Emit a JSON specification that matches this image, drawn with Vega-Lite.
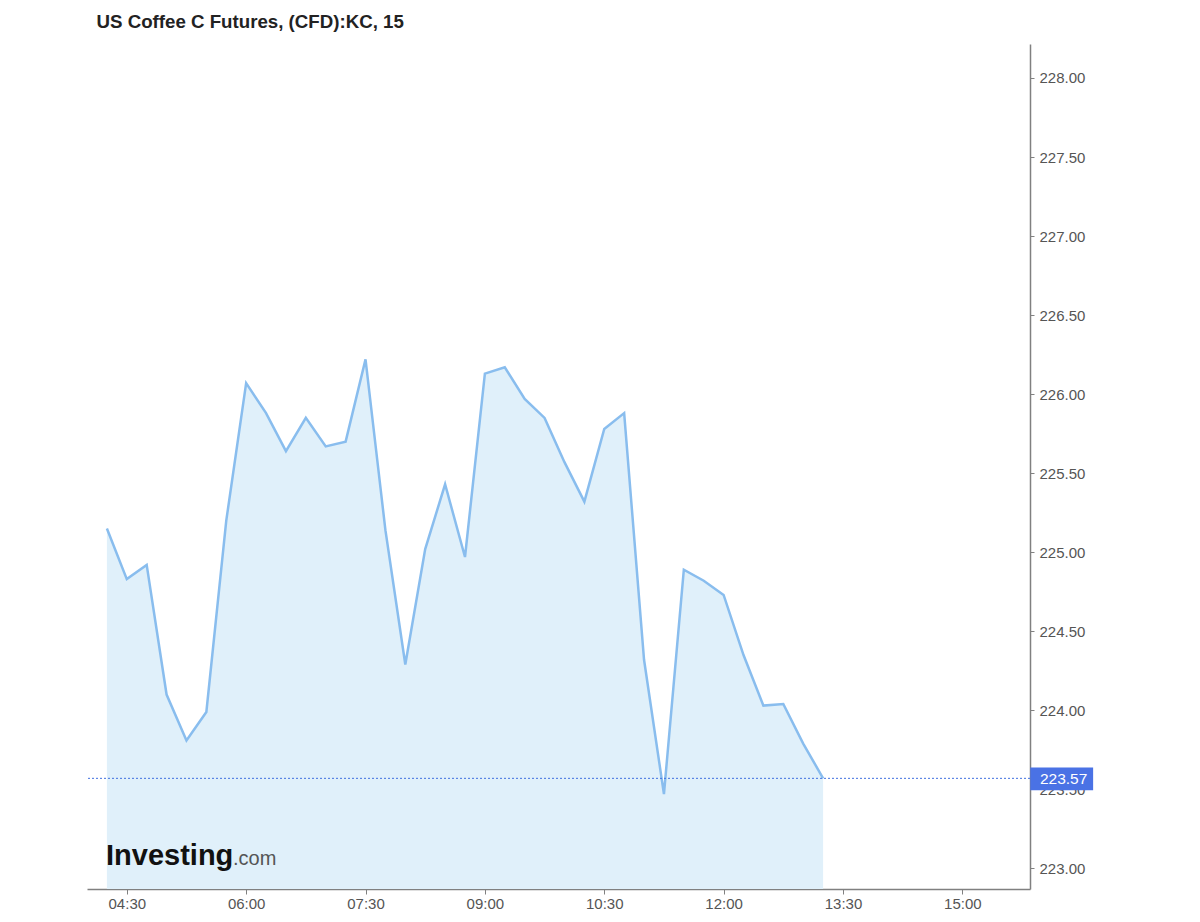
{
  "$schema": "https://vega.github.io/schema/vega-lite/v6.json",
  "width": 943,
  "height": 845,
  "autosize": {"type": "none"},
  "padding": {"left": 87, "top": 44, "right": 170, "bottom": 33},
  "background": "white",
  "config": {"view": {"stroke": null}, "font": "Arial, Liberation Sans"},
  "title": {
    "text": "US Coffee C Futures, (CFD):KC, 15",
    "anchor": "start",
    "dx": 10,
    "dy": 21,
    "offset": 18,
    "baseline": "alphabetic",
    "fontSize": 18.7,
    "fontWeight": "bold",
    "color": "#222222",
    "font": "Arial, Liberation Sans"
  },
  "datasets": {
    "prices": [
      {"t": "2024-01-01T04:15:00", "price": 225.15},
      {"t": "2024-01-01T04:30:00", "price": 224.83},
      {"t": "2024-01-01T04:45:00", "price": 224.92},
      {"t": "2024-01-01T05:00:00", "price": 224.10},
      {"t": "2024-01-01T05:15:00", "price": 223.81},
      {"t": "2024-01-01T05:30:00", "price": 223.99},
      {"t": "2024-01-01T05:45:00", "price": 225.20},
      {"t": "2024-01-01T06:00:00", "price": 226.07},
      {"t": "2024-01-01T06:15:00", "price": 225.88},
      {"t": "2024-01-01T06:30:00", "price": 225.64},
      {"t": "2024-01-01T06:45:00", "price": 225.85},
      {"t": "2024-01-01T07:00:00", "price": 225.67},
      {"t": "2024-01-01T07:15:00", "price": 225.70},
      {"t": "2024-01-01T07:30:00", "price": 226.22},
      {"t": "2024-01-01T07:45:00", "price": 225.14},
      {"t": "2024-01-01T08:00:00", "price": 224.29},
      {"t": "2024-01-01T08:15:00", "price": 225.02},
      {"t": "2024-01-01T08:30:00", "price": 225.43},
      {"t": "2024-01-01T08:45:00", "price": 224.97},
      {"t": "2024-01-01T09:00:00", "price": 226.13},
      {"t": "2024-01-01T09:15:00", "price": 226.17},
      {"t": "2024-01-01T09:30:00", "price": 225.97},
      {"t": "2024-01-01T09:45:00", "price": 225.85},
      {"t": "2024-01-01T10:00:00", "price": 225.57},
      {"t": "2024-01-01T10:15:00", "price": 225.32},
      {"t": "2024-01-01T10:30:00", "price": 225.78},
      {"t": "2024-01-01T10:45:00", "price": 225.88},
      {"t": "2024-01-01T11:00:00", "price": 224.32},
      {"t": "2024-01-01T11:15:00", "price": 223.47},
      {"t": "2024-01-01T11:30:00", "price": 224.89},
      {"t": "2024-01-01T11:45:00", "price": 224.82},
      {"t": "2024-01-01T12:00:00", "price": 224.73},
      {"t": "2024-01-01T12:15:00", "price": 224.35},
      {"t": "2024-01-01T12:30:00", "price": 224.03},
      {"t": "2024-01-01T12:45:00", "price": 224.04},
      {"t": "2024-01-01T13:00:00", "price": 223.79},
      {"t": "2024-01-01T13:15:00", "price": 223.57}
    ],
    "last": [
      {"label": "223.57", "price": 223.57, "x0": "2024-01-01T15:51:12", "x1": "2024-01-01T16:38:36", "xt": "2024-01-01T15:58:30", "ytop": 223.639, "ybot": 223.495}
    ],
    "logo": [
      {"brand": "Investing", "domain": ".com", "xb": "2024-01-01T04:14:20", "xd": "2024-01-01T05:50:06", "yb": 223.021}
    ]
  },
  "layer": [
    {
      "data": {"name": "prices"},
      "mark": {"type": "area", "color": "#e0f0fa", "opacity": 1, "clip": true},
      "encoding": {
        "x": {
          "field": "t",
          "type": "temporal",
          "scale": {
            "domain": [
              {"year": 2024, "month": 1, "date": 1, "hours": 4, "minutes": 0},
              {"year": 2024, "month": 1, "date": 1, "hours": 15, "minutes": 51}
            ],
            "nice": false
          },
          "axis": {
            "title": null,
            "orient": "bottom",
            "format": "%H:%M",
            "values": [
              {"year": 2024, "month": 1, "date": 1, "hours": 4, "minutes": 30},
              {"year": 2024, "month": 1, "date": 1, "hours": 6, "minutes": 0},
              {"year": 2024, "month": 1, "date": 1, "hours": 7, "minutes": 30},
              {"year": 2024, "month": 1, "date": 1, "hours": 9, "minutes": 0},
              {"year": 2024, "month": 1, "date": 1, "hours": 10, "minutes": 30},
              {"year": 2024, "month": 1, "date": 1, "hours": 12, "minutes": 0},
              {"year": 2024, "month": 1, "date": 1, "hours": 13, "minutes": 30},
              {"year": 2024, "month": 1, "date": 1, "hours": 15, "minutes": 0}
            ],
            "grid": false,
            "domainColor": "#808080",
            "domainWidth": 1.5,
            "tickColor": "#808080",
            "tickSize": 5,
            "labelPadding": 2,
            "labelFontSize": 15,
            "labelColor": "#555555",
            "labelFont": "Arial, Liberation Sans",
            "labelFlush": false,
            "labelOverlap": false
          }
        },
        "y": {
          "field": "price",
          "type": "quantitative",
          "scale": {"domain": [222.87, 228.215], "nice": false, "zero": false},
          "axis": {
            "title": null,
            "orient": "right",
            "values": [223, 223.5, 224, 224.5, 225, 225.5, 226, 226.5, 227, 227.5, 228],
            "format": ".2f",
            "grid": false,
            "domainColor": "#808080",
            "domainWidth": 1.5,
            "tickColor": "#808080",
            "tickSize": 4,
            "labelPadding": 5,
            "labelFontSize": 15,
            "labelColor": "#555555",
            "labelFont": "Arial, Liberation Sans",
            "labelFlush": false,
            "labelOverlap": false
          }
        },
        "y2": {"datum": 222.87}
      }
    },
    {
      "data": {"name": "prices"},
      "mark": {"type": "line", "color": "#89bdee", "strokeWidth": 2.5, "strokeJoin": "miter"},
      "encoding": {
        "x": {"field": "t", "type": "temporal"},
        "y": {"field": "price", "type": "quantitative"}
      }
    },
    {
      "data": {"name": "last"},
      "mark": {"type": "rule", "color": "#3f6fe0", "strokeWidth": 1, "strokeDash": [2, 2]},
      "encoding": {
        "y": {"field": "price", "type": "quantitative"}
      }
    },
    {
      "data": {"name": "last"},
      "mark": {"type": "rect", "color": "#4a72e5", "opacity": 1},
      "encoding": {
        "x": {"field": "x0", "type": "temporal"},
        "x2": {"field": "x1"},
        "y": {"field": "ytop", "type": "quantitative"},
        "y2": {"field": "ybot"}
      }
    },
    {
      "data": {"name": "last"},
      "mark": {"type": "text", "color": "white", "fontSize": 15.5, "align": "left", "baseline": "middle", "font": "Arial, Liberation Sans", "dy": 1},
      "encoding": {
        "x": {"field": "xt", "type": "temporal"},
        "y": {"field": "price", "type": "quantitative"},
        "text": {"field": "label"}
      }
    },
    {
      "data": {"name": "logo"},
      "mark": {"type": "text", "color": "#111111", "fontSize": 29, "fontWeight": "bold", "align": "left", "baseline": "alphabetic", "font": "Arial, Liberation Sans"},
      "encoding": {
        "x": {"field": "xb", "type": "temporal"},
        "y": {"field": "yb", "type": "quantitative"},
        "text": {"field": "brand"}
      }
    },
    {
      "data": {"name": "logo"},
      "mark": {"type": "text", "color": "#555555", "fontSize": 20, "align": "left", "baseline": "alphabetic", "font": "Arial, Liberation Sans"},
      "encoding": {
        "x": {"field": "xd", "type": "temporal"},
        "y": {"field": "yb", "type": "quantitative"},
        "text": {"field": "domain"}
      }
    }
  ]
}
